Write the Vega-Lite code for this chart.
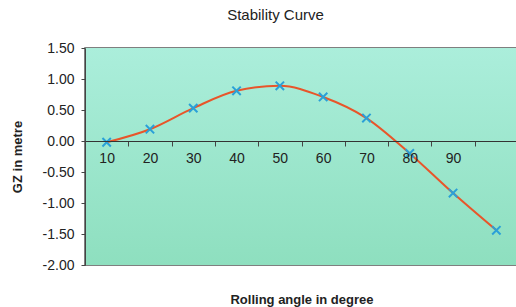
{
  "$schema": "https://vega.github.io/schema/vega-lite/v6.json",
  "autosize": "none",
  "width": 433,
  "height": 217,
  "padding": {"left": 85, "top": 48, "right": 0, "bottom": 42},
  "background": "white",
  "title": {"text": "Stability Curve", "fontSize": 15, "font": "Liberation Sans", "fontWeight": "normal", "color": "#222", "offset": 18, "dx": -26},
  "data": {"values": [
    {"angle": 10, "gz": -0.02},
    {"angle": 20, "gz": 0.19},
    {"angle": 30, "gz": 0.53},
    {"angle": 40, "gz": 0.81},
    {"angle": 50, "gz": 0.89},
    {"angle": 60, "gz": 0.71},
    {"angle": 70, "gz": 0.37},
    {"angle": 80, "gz": -0.2},
    {"angle": 90, "gz": -0.84},
    {"angle": 100, "gz": -1.44}
  ]},
  "config": {
    "view": {"stroke": "#555", "strokeWidth": 1.5},
    "axis": {"labelFont": "Liberation Sans", "titleFont": "Liberation Sans", "domainColor": "#444", "tickColor": "#444", "labelColor": "#222", "titleColor": "#222", "grid": false, "zindex": 1, "labelOverlap": false}
  },
  "layer": [
    {
      "data": {"values": [{}]},
      "mark": {"type": "rect", "color": {"gradient": "linear", "x1": 0, "y1": 0, "x2": 0, "y2": 1, "stops": [{"offset": 0, "color": "#abeedb"}, {"offset": 1, "color": "#8edfbf"}]}},
      "encoding": {}
    },
    {
      "mark": {"type": "line", "color": "#e8552a", "strokeWidth": 2, "interpolate": "monotone"},
      "encoding": {
        "x": {"field": "angle", "type": "ordinal", "bandPosition": 0.5,
          "scale": {"type": "band", "paddingInner": 0, "paddingOuter": 0},
          "axis": {"orient": "bottom", "offset": -124, "title": "Rolling angle in degree", "titleFontWeight": "bold", "titleFontSize": 13, "titlePadding": 128, "tickBand": "extent", "labelAngle": 0, "labelFontSize": 14, "labelPadding": 5, "tickSize": 5, "labelExpr": "datum.value == 100 ? '' : datum.label", "domainColor": "#333", "zindex": 1}},
        "y": {"field": "gz", "type": "quantitative", "scale": {"domain": [-2, 1.5], "nice": false},
          "axis": {"values": [-2, -1.5, -1, -0.5, 0, 0.5, 1, 1.5], "format": ".2f", "labelExpr": "replace(datum.label, '\u2212', '-')", "labelOverlap": false, "title": "GZ in metre", "titleFontWeight": "bold", "titleFontSize": 13, "labelFontSize": 14, "tickSize": 4, "labelPadding": 7, "titlePadding": 18, "zindex": 1}}
      }
    },
    {
      "mark": {"type": "point", "shape": "M-1,-1L1,1M1,-1L-1,1", "filled": false, "stroke": "#2aa0d8", "strokeWidth": 2, "size": 70, "opacity": 1},
      "encoding": {
        "x": {"field": "angle", "type": "ordinal", "bandPosition": 0.5,
          "axis": {"orient": "bottom", "offset": -124, "title": "Rolling angle in degree", "titleFontWeight": "bold", "titleFontSize": 13, "titlePadding": 128, "tickBand": "extent", "labelAngle": 0, "labelFontSize": 14, "labelPadding": 5, "tickSize": 5, "labelExpr": "datum.value == 100 ? '' : datum.label", "domainColor": "#333", "zindex": 1}},
        "y": {"field": "gz", "type": "quantitative",
          "axis": {"values": [-2, -1.5, -1, -0.5, 0, 0.5, 1, 1.5], "format": ".2f", "labelExpr": "replace(datum.label, '\u2212', '-')", "labelOverlap": false, "title": "GZ in metre", "titleFontWeight": "bold", "titleFontSize": 13, "labelFontSize": 14, "tickSize": 4, "labelPadding": 7, "titlePadding": 18, "zindex": 1}}
      }
    }
  ]
}
